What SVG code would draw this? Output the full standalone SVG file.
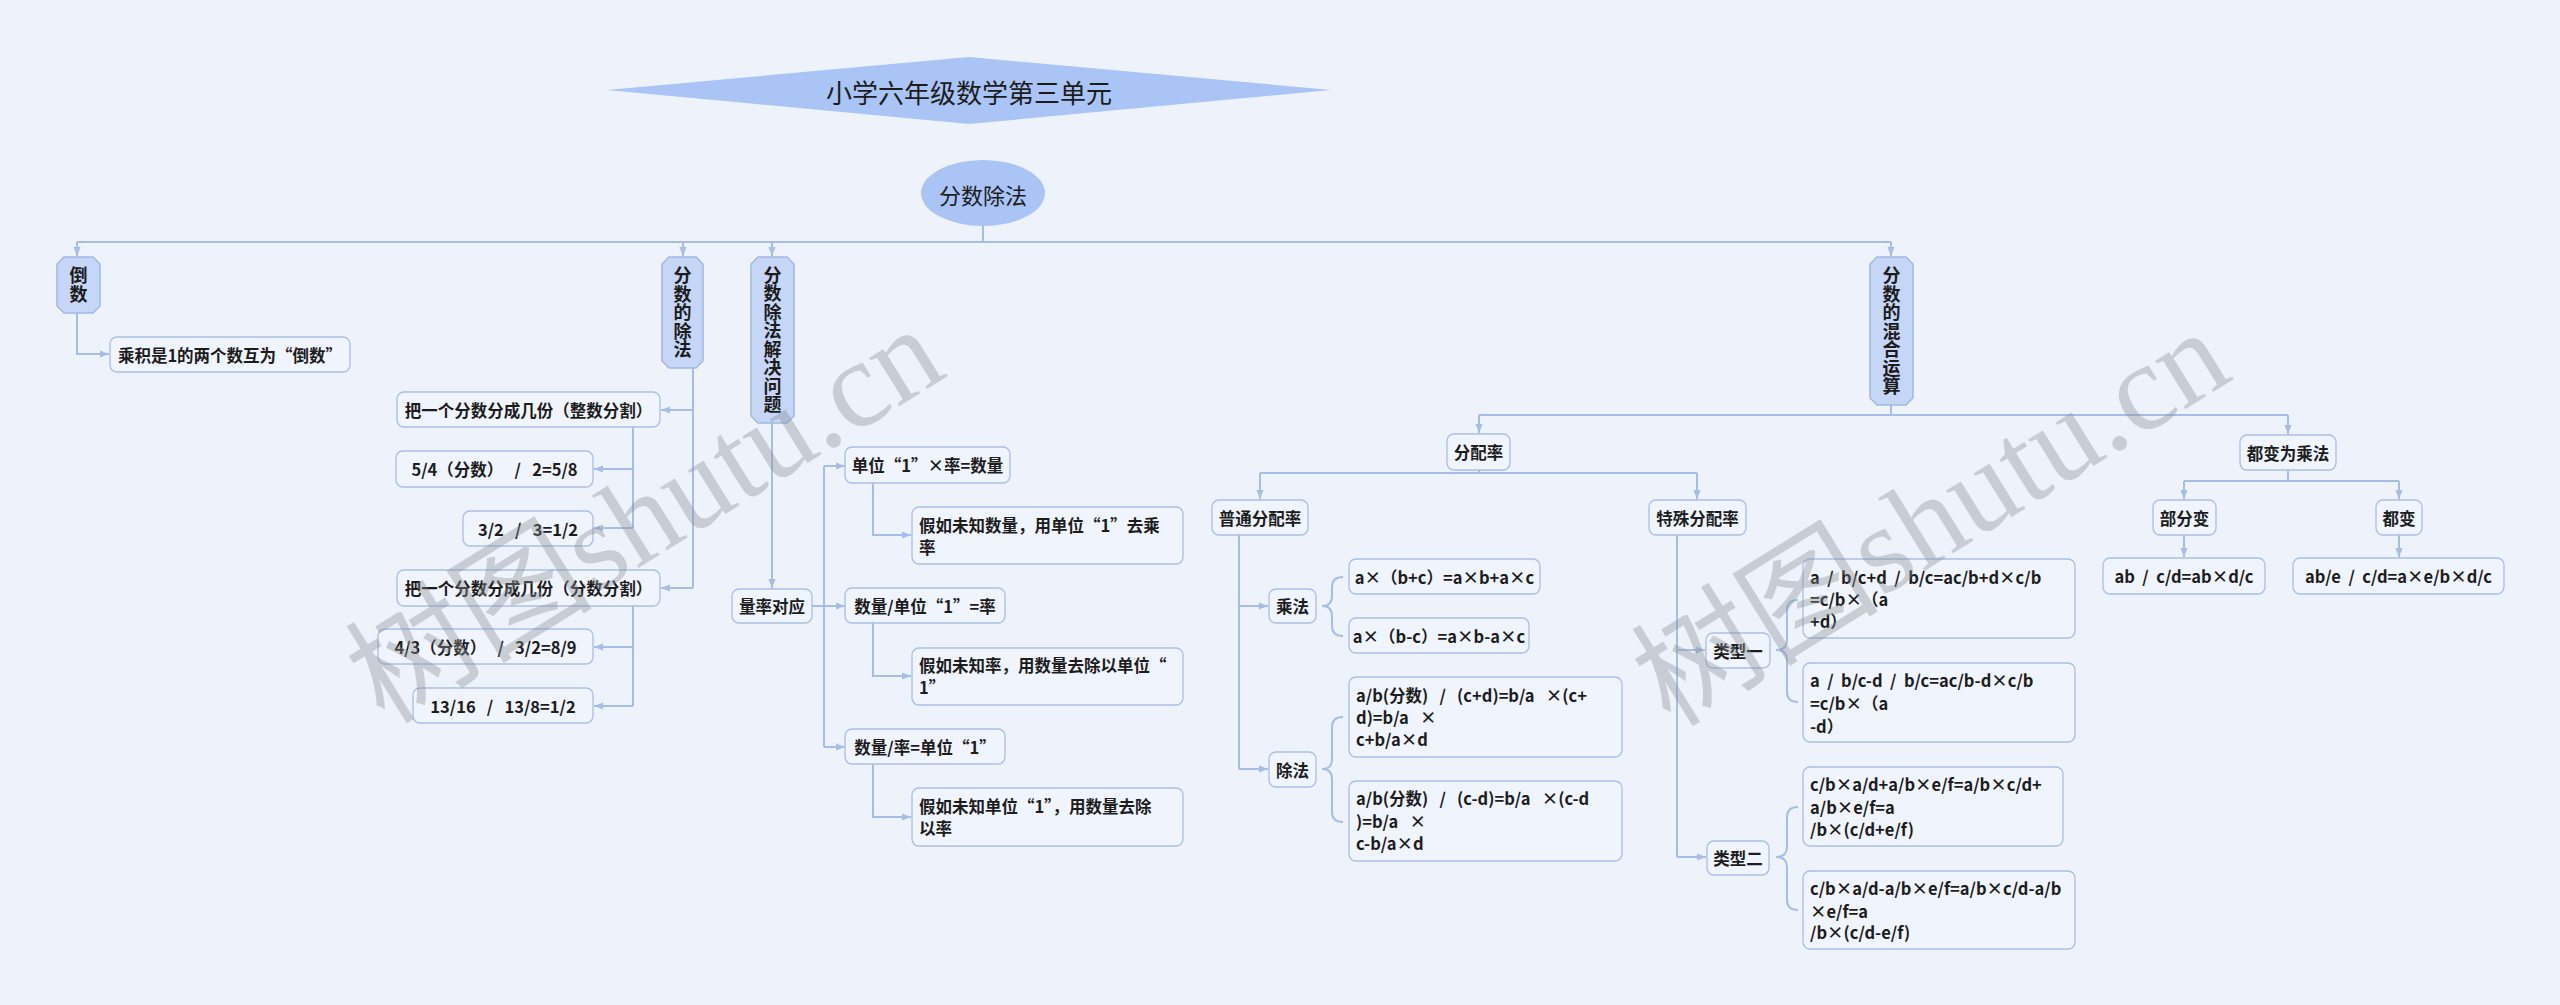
<svg xmlns="http://www.w3.org/2000/svg" width="2560" height="1005" viewBox="0 0 2560 1005">
<defs>
<style>
.t{font-family:"Noto Sans CJK SC","Noto Sans",sans-serif;font-weight:bold;font-size:16.5px;fill:#1c1c1c}
.c{text-anchor:middle;dominant-baseline:central}
.s{text-anchor:start;dominant-baseline:central}
.l1{fill:#c5d6f7;stroke:#a0b8e6;stroke-width:1.5}
.l1t{font-family:"Noto Sans CJK SC",sans-serif;font-weight:bold;font-size:18px;fill:#1c1c1c;text-anchor:middle;writing-mode:vertical-rl;letter-spacing:0.5px}
.box{fill:#f0f4fc;stroke:#a9bee8;stroke-width:1.3}
.ln{fill:none;stroke:#a6bde8;stroke-width:2}
.wm{font-family:"Liberation Serif","Noto Sans CJK SC",serif;font-size:124px;fill:#8c8f96;opacity:0.38;text-anchor:middle;dominant-baseline:central}
</style>
<marker id="ar" viewBox="0 0 10 10" refX="10" refY="5" markerWidth="9" markerHeight="9" markerUnits="userSpaceOnUse" orient="auto">
<path d="M0,1 L10,5 L0,9 z" fill="#a6bde8"/>
</marker>
</defs>
<rect width="2560" height="1005" fill="#eef3fb"/>

<g id="title">
<polygon points="607,90 969,57 1331,90 969,124" fill="#a9c4f5"/>
<text x="969" y="91" style="font-family:'Noto Sans CJK SC',sans-serif;font-size:26px;fill:#1c1c1c;text-anchor:middle;dominant-baseline:central">小学六年级数学第三单元</text>
</g>

<g id="connectors">
<path class="ln" d="M983,226 V242"/>
<path class="ln" d="M77,242 H1891"/>
<path class="ln" marker-end="url(#ar)" d="M77,242 V256"/>
<path class="ln" marker-end="url(#ar)" d="M683,242 V256"/>
<path class="ln" marker-end="url(#ar)" d="M772,242 V256"/>
<path class="ln" marker-end="url(#ar)" d="M1891,242 V256"/>
<path class="ln" marker-end="url(#ar)" d="M77,313 V354 H109"/>
<path class="ln" d="M693,368 V588"/>
<path class="ln" marker-end="url(#ar)" d="M693,410 H661"/>
<path class="ln" marker-end="url(#ar)" d="M693,588 H661"/>
<path class="ln" d="M633,427 V528"/>
<path class="ln" marker-end="url(#ar)" d="M633,469 H594"/>
<path class="ln" marker-end="url(#ar)" d="M633,528 H594"/>
<path class="ln" d="M633,606 V706"/>
<path class="ln" marker-end="url(#ar)" d="M633,647 H594"/>
<path class="ln" marker-end="url(#ar)" d="M633,706 H594"/>
<path class="ln" marker-end="url(#ar)" d="M772,423 V588"/>
<path class="ln" d="M812,606 H824"/>
<path class="ln" d="M824,466 V747"/>
<path class="ln" marker-end="url(#ar)" d="M824,466 H845"/>
<path class="ln" marker-end="url(#ar)" d="M824,606 H845"/>
<path class="ln" marker-end="url(#ar)" d="M824,747 H845"/>
<path class="ln" marker-end="url(#ar)" d="M873,483 V535 H911"/>
<path class="ln" marker-end="url(#ar)" d="M873,623 V676 H911"/>
<path class="ln" marker-end="url(#ar)" d="M873,764 V817 H911"/>
<path class="ln" d="M1891,405 V415"/>
<path class="ln" d="M1479,415 H2288"/>
<path class="ln" marker-end="url(#ar)" d="M1479,415 V433"/>
<path class="ln" marker-end="url(#ar)" d="M2288,415 V434"/>
<path class="ln" d="M1479,470 V473"/>
<path class="ln" d="M1260,473 H1697"/>
<path class="ln" marker-end="url(#ar)" d="M1260,473 V499"/>
<path class="ln" marker-end="url(#ar)" d="M1697,473 V499"/>
<path class="ln" d="M1239,535 V769"/>
<path class="ln" marker-end="url(#ar)" d="M1239,606 H1268"/>
<path class="ln" marker-end="url(#ar)" d="M1239,769 H1268"/>
<path class="ln" d="M1343,577 Q1332,577 1332,587 L1332,596 Q1332,606 1322,606 Q1332,606 1332,616 L1332,626 Q1332,636 1343,636"/>
<path class="ln" d="M1343,717 Q1332,717 1332,727 L1332,759 Q1332,769 1322,769 Q1332,769 1332,779 L1332,812 Q1332,822 1343,822"/>
<path class="ln" d="M1677,535 V857"/>
<path class="ln" marker-end="url(#ar)" d="M1677,650 H1705"/>
<path class="ln" marker-end="url(#ar)" d="M1677,857 H1706"/>
<path class="ln" d="M1798,600 Q1787,600 1787,610 L1787,640 Q1787,650 1776,650 Q1787,650 1787,660 L1787,692 Q1787,702 1798,702"/>
<path class="ln" d="M1798,807 Q1787,807 1787,817 L1787,847 Q1787,857 1776,857 Q1787,857 1787,867 L1787,900 Q1787,910 1798,910"/>
<path class="ln" d="M2288,470 V481"/>
<path class="ln" d="M2184,481 H2399"/>
<path class="ln" marker-end="url(#ar)" d="M2184,481 V499"/>
<path class="ln" marker-end="url(#ar)" d="M2399,481 V499"/>
<path class="ln" marker-end="url(#ar)" d="M2184,535 V557"/>
<path class="ln" marker-end="url(#ar)" d="M2399,535 V557"/>
</g>

<g id="root">
<ellipse cx="983" cy="193" rx="62" ry="33" fill="#a9c4f5"/>
<text x="983" y="194" style="font-family:'Noto Sans CJK SC',sans-serif;font-size:22px;fill:#1c1c1c;text-anchor:middle;dominant-baseline:central">分数除法</text>
</g>

<g id="n-daoshu">
<polygon class="l1" points="64,257 93,257 100,264 100,306 93,313 64,313 57,306 57,264"/>
<text class="l1t" x="78.5" y="285">倒数</text>
</g>
<g id="n-chufa">
<polygon class="l1" points="669,257 696,257 703,264 703,361 696,368 669,368 662,361 662,264"/>
<text class="l1t" x="682.5" y="312.5">分数的除法</text>
</g>
<g id="n-jiejue">
<polygon class="l1" points="758,257 787,257 794,264 794,416 787,423 758,423 751,416 751,264"/>
<text class="l1t" x="772.5" y="340">分数除法解决问题</text>
</g>
<g id="n-hunhe">
<polygon class="l1" points="1877,257 1906,257 1913,264 1913,398 1906,405 1877,405 1870,398 1870,264"/>
<text class="l1t" x="1891.5" y="331">分数的混合运算</text>
</g>

<g id="n-huji"><rect class="box" x="110" y="337" width="240" height="35" rx="7"/><text class="t c" x="230" y="355">乘积是1的两个数互为“倒数”</text></g>

<g id="n-zhengshu"><rect class="box" x="397" y="392" width="263" height="35" rx="7"/><text class="t c" x="528.5" y="410">把一个分数分成几份（整数分割）</text></g>
<g id="n-e1"><rect class="box" x="396" y="451" width="197" height="36" rx="7"/><text class="t c" x="494.5" y="469" xml:space="preserve">5/4（分数）   /   2=5/8</text></g>
<g id="n-e2"><rect class="box" x="463" y="511" width="130" height="35" rx="7"/><text class="t c" x="528" y="529" xml:space="preserve">3/2   /   3=1/2</text></g>
<g id="n-fenshu"><rect class="box" x="397" y="570" width="263" height="36" rx="7"/><text class="t c" x="528.5" y="588">把一个分数分成几份（分数分割）</text></g>
<g id="n-e3"><rect class="box" x="378" y="629" width="215" height="35" rx="7"/><text class="t c" x="485.5" y="647" xml:space="preserve">4/3（分数）   /   3/2=8/9</text></g>
<g id="n-e4"><rect class="box" x="413" y="688" width="180" height="35" rx="7"/><text class="t c" x="503" y="706" xml:space="preserve">13/16   /   13/8=1/2</text></g>

<g id="n-liangly"><rect class="box" x="732" y="589" width="80" height="34" rx="7"/><text class="t c" x="772" y="606">量率对应</text></g>
<g id="n-q1"><rect class="box" x="845" y="447" width="165" height="36" rx="7"/><text class="t c" x="927.5" y="465">单位“1”×率=数量</text></g>
<g id="n-q1d"><rect class="box" x="912" y="507" width="271" height="57" rx="7"/><text class="t s"><tspan x="919" y="525">假如未知数量，用单位“1”去乘</tspan><tspan x="919" y="547">率</tspan></text></g>
<g id="n-q2"><rect class="box" x="845" y="588" width="160" height="35" rx="7"/><text class="t c" x="925" y="606">数量/单位“1”=率</text></g>
<g id="n-q2d"><rect class="box" x="912" y="648" width="271" height="57" rx="7"/><text class="t s"><tspan x="919" y="665">假如未知率，用数量去除以单位“</tspan><tspan x="919" y="687">1”</tspan></text></g>
<g id="n-q3"><rect class="box" x="845" y="729" width="160" height="35" rx="7"/><text class="t c" x="925" y="747">数量/率=单位“1”</text></g>
<g id="n-q3d"><rect class="box" x="912" y="788" width="271" height="58" rx="7"/><text class="t s"><tspan x="919" y="806">假如未知单位“1”，用数量去除</tspan><tspan x="919" y="828">以率</tspan></text></g>

<g id="n-fenpei"><rect class="box" x="1447" y="434" width="63" height="36" rx="7"/><text class="t c" x="1478.5" y="452">分配率</text></g>
<g id="n-putong"><rect class="box" x="1212" y="500" width="96" height="35" rx="7"/><text class="t c" x="1260" y="518">普通分配率</text></g>
<g id="n-chengfa"><rect class="box" x="1269" y="589" width="47" height="34" rx="7"/><text class="t c" x="1292.5" y="606">乘法</text></g>
<g id="n-cf1"><rect class="box" x="1349" y="559" width="191" height="35" rx="7"/><text class="t c" x="1444.5" y="577">a×（b+c）=a×b+a×c</text></g>
<g id="n-cf2"><rect class="box" x="1349" y="618" width="180" height="35" rx="7"/><text class="t c" x="1439" y="636">a×（b-c）=a×b-a×c</text></g>
<g id="n-chufa2"><rect class="box" x="1269" y="752" width="47" height="35" rx="7"/><text class="t c" x="1292.5" y="770">除法</text></g>
<g id="n-df1"><rect class="box" x="1349" y="677" width="273" height="80" rx="7"/><text class="t s" xml:space="preserve"><tspan x="1356" y="695">a/b(分数)   /   (c+d)=b/a   ×(c+</tspan><tspan x="1356" y="717">d)=b/a   ×</tspan><tspan x="1356" y="739">c+b/a×d</tspan></text></g>
<g id="n-df2"><rect class="box" x="1349" y="781" width="273" height="80" rx="7"/><text class="t s" xml:space="preserve"><tspan x="1356" y="798">a/b(分数)   /   (c-d)=b/a   ×(c-d</tspan><tspan x="1356" y="821">)=b/a   ×</tspan><tspan x="1356" y="843">c-b/a×d</tspan></text></g>

<g id="n-teshu"><rect class="box" x="1649" y="500" width="97" height="35" rx="7"/><text class="t c" x="1697.5" y="518">特殊分配率</text></g>
<g id="n-lx1"><rect class="box" x="1706" y="633" width="64" height="35" rx="7"/><text class="t c" x="1738" y="651">类型一</text></g>
<g id="n-lx1a"><rect class="box" x="1803" y="559" width="272" height="79" rx="7"/><text class="t s" xml:space="preserve"><tspan x="1810" y="577">a  /  b/c+d  /  b/c=ac/b+d×c/b</tspan><tspan x="1810" y="599">=c/b×（a</tspan><tspan x="1810" y="621">+d）</tspan></text></g>
<g id="n-lx1b"><rect class="box" x="1803" y="663" width="272" height="79" rx="7"/><text class="t s" xml:space="preserve"><tspan x="1810" y="680">a  /  b/c-d  /  b/c=ac/b-d×c/b</tspan><tspan x="1810" y="703">=c/b×（a</tspan><tspan x="1810" y="726">-d）</tspan></text></g>
<g id="n-lx2"><rect class="box" x="1707" y="841" width="62" height="34" rx="7"/><text class="t c" x="1738" y="858">类型二</text></g>
<g id="n-lx2a"><rect class="box" x="1803" y="767" width="260" height="79" rx="7"/><text class="t s"><tspan x="1810" y="784">c/b×a/d+a/b×e/f=a/b×c/d+</tspan><tspan x="1810" y="807">a/b×e/f=a</tspan><tspan x="1810" y="829">/b×(c/d+e/f)</tspan></text></g>
<g id="n-lx2b"><rect class="box" x="1803" y="871" width="272" height="78" rx="7"/><text class="t s"><tspan x="1810" y="888">c/b×a/d-a/b×e/f=a/b×c/d-a/b</tspan><tspan x="1810" y="911">×e/f=a</tspan><tspan x="1810" y="932">/b×(c/d-e/f)</tspan></text></g>

<g id="n-dubian"><rect class="box" x="2240" y="435" width="96" height="35" rx="7"/><text class="t c" x="2288" y="453">都变为乘法</text></g>
<g id="n-bufen"><rect class="box" x="2153" y="500" width="63" height="35" rx="7"/><text class="t c" x="2184.5" y="518">部分变</text></g>
<g id="n-dou"><rect class="box" x="2376" y="500" width="46" height="35" rx="7"/><text class="t c" x="2399" y="518">都变</text></g>
<g id="n-bf1"><rect class="box" x="2103" y="558" width="162" height="36" rx="7"/><text class="t c" x="2184" y="576" xml:space="preserve">ab  /  c/d=ab×d/c</text></g>
<g id="n-db1"><rect class="box" x="2293" y="558" width="211" height="36" rx="7"/><text class="t c" x="2398.5" y="576" xml:space="preserve">ab/e  /  c/d=a×e/b×d/c</text></g>

<g id="watermark">
<text class="wm" transform="translate(645,515) rotate(-31.8)">树图shutu.cn</text>
<text class="wm" transform="translate(1931,518) rotate(-31.8)">树图shutu.cn</text>
</g>
</svg>
